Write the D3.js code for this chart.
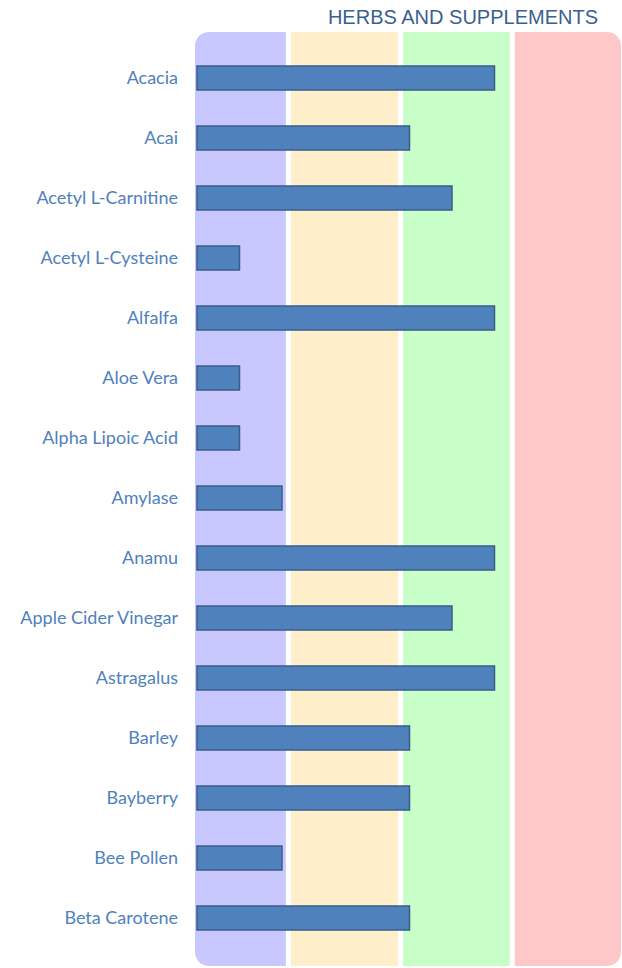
<!DOCTYPE html>
<html>
<head>
<meta charset="utf-8">
<script src="https://cdn.jsdelivr.net/npm/d3@7"></script>
<style>
  body { margin: 0; background: #fff; }
  svg { display: block; }
</style>
</head>
<body>
<div id="chart-area"></div>
<script>
// herbs on the y axis, rating on the x axis (0..10)
var herbs = ["Acacia", "Acai", "Acetyl L-Carnitine", "Acetyl L-Cysteine", "Alfalfa",
	"Aloe Vera", "Alpha Lipoic Acid", "Amylase", "Anamu", "Apple Cider Vinegar",
	"Astragalus", "Barley", "Bayberry", "Bee Pollen", "Beta Carotene"];
var ratings = [7, 5, 6, 1, 7, 1, 1, 2, 7, 6, 7, 5, 5, 2, 5];

// background zones (in rating units)
var zoneStarts = [0, 2.15, 4.79, 7.42];
var zoneEnds = [2.15, 4.79, 7.42, 10];
var zoneColors = ["#c8c8ff", "#feefca", "#c8fec8", "#ffc8c8"];

var title = "HERBS AND SUPPLEMENTS";

var width = 622;
var height = 968;
var gap = 2.5;

var svg = d3.select("#chart-area")
	.append("svg")
	.attr("width", width)
	.attr("height", height);

var x = d3.scaleLinear()
	.domain([0, 10])
	.range([197, 622]);

var y = d3.scaleBand()
	.domain(herbs)
	.range([48, 948])
	.paddingInner(0.6)
	.paddingOuter(0.3);

// rounded panel holding the coloured zones
svg.append("clipPath")
	.attr("id", "panel")
	.append("rect")
	.attr("x", 195)
	.attr("y", 32)
	.attr("width", 426)
	.attr("height", 934)
	.attr("rx", 14);

var zones = svg.append("g").attr("clip-path", "url(#panel)");
zones.selectAll("rect")
	.data(zoneStarts)
	.enter()
	.append("rect")
	.attr("x", (d, i) => i == 0 ? 195 : x(d) + gap)
	.attr("y", 32)
	.attr("width", (d, i) => {
		var x0 = i == 0 ? 195 : x(d) + gap;
		var x1 = i == 3 ? 621 : x(zoneEnds[i]) - gap;
		return x1 - x0;
	})
	.attr("height", 934)
	.attr("fill", (d, i) => zoneColors[i]);

// title
svg.append("text")
	.attr("x", 598)
	.attr("y", 24)
	.attr("text-anchor", "end")
	.attr("font-family", "Liberation Sans, Arial, sans-serif")
	.attr("font-size", "20px")
	.attr("fill", "#3b5f8f")
	.text(title);

// labels
var yAxisGroup = svg.append("g")
	.attr("transform", "translate(197, 0)")
	.call(d3.axisLeft(y).tickSize(0).tickPadding(19));
yAxisGroup.select(".domain").remove();
yAxisGroup.selectAll("text")
	.attr("font-family", "Lato, sans-serif")
	.attr("font-size", "18px")
	.attr("dy", "0.36em")
	.attr("fill", "#4f81bd");

// bars
svg.selectAll("rect.bar")
	.data(ratings)
	.enter()
	.append("rect")
	.attr("class", "bar")
	.attr("x", x(0))
	.attr("y", (d, i) => y(herbs[i]))
	.attr("width", (d) => x(d) - x(0))
	.attr("height", y.bandwidth())
	.attr("fill", "#4f81bd")
	.attr("stroke", "#385d8a")
	.attr("stroke-width", 1.5);
</script>
</body>
</html>
